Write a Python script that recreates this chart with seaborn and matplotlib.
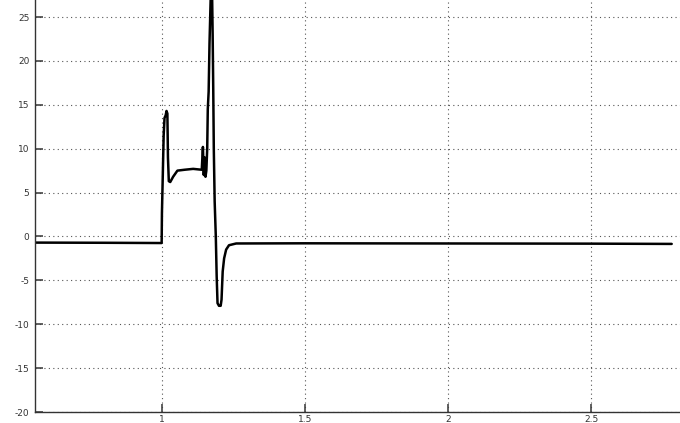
import matplotlib
matplotlib.use("Agg")
import matplotlib.pyplot as plt
import seaborn as sns
import pandas as pd

# Signal trace (time, amplitude)
time = [0.558, 0.800, 1.000, 1.001, 1.004, 1.007, 1.010, 1.014, 1.017, 1.020,
        1.022, 1.025, 1.030, 1.040, 1.055, 1.080, 1.110, 1.140, 1.144, 1.147,
        1.150, 1.153, 1.156, 1.159, 1.161, 1.164, 1.167, 1.171, 1.175, 1.178,
        1.180, 1.182, 1.185, 1.189, 1.192, 1.195, 1.200, 1.206, 1.209, 1.213,
        1.218, 1.225, 1.235, 1.260, 1.500, 2.000, 2.500, 2.780]
amplitude = [-0.70, -0.72, -0.75, 2.7, 7.0, 11.5, 13.5, 13.8, 14.3, 14.0,
             9.0, 6.3, 6.2, 6.8, 7.5, 7.6, 7.7, 7.6, 10.2, 7.0,
             9.0, 6.8, 7.5, 10.0, 14.5, 16.5, 22.0, 27.0, 30.0, 23.0,
             17.0, 10.0, 4.0, 0.0, -4.5, -7.6, -7.9, -7.9, -7.2, -4.0,
             -2.5, -1.5, -1.0, -0.80, -0.78, -0.80, -0.82, -0.85]

x_ticks = [1, 1.5, 2, 2.5]
x_tick_labels = ["1", "1.5", "2", "2.5"]
y_ticks = [-20, -15, -10, -5, 0, 5, 10, 15, 20, 25]
y_tick_labels = ["-20", "-15", "-10", "-5", "0", "5", "10", "15", "20", "25"]

df = pd.DataFrame({"t": time, "v": amplitude})

sns.set_style("white")
plt.rcParams["font.family"] = ["DejaVu Sans"]

fig = plt.figure(figsize=(6.8, 4.23), dpi=100)
ax = fig.add_axes([35 / 680, 11 / 423, 645 / 680, 412 / 423])

sns.lineplot(data=df, x="t", y="v", sort=False, estimator=None,
             color="black", linewidth=1.8, ax=ax)

ax.set_xlim(0.558, 2.809)
ax.set_ylim(-20, 26.94)
ax.set_xticks(x_ticks)
ax.set_xticklabels(x_tick_labels)
ax.set_yticks(y_ticks)
ax.set_yticklabels(y_tick_labels)
ax.set_xlabel("")
ax.set_ylabel("")

ax.grid(True, which="major", linestyle=(0, (1, 3)), color="#555555", linewidth=0.8)
ax.tick_params(direction="in", length=6, width=1.2, colors="#444444",
               labelsize=6.5, labelcolor="#333333",
               left=True, bottom=True, top=False, right=False)
ax.tick_params(axis="x", pad=2)
ax.tick_params(axis="y", pad=4)

for side in ("top", "right"):
    ax.spines[side].set_visible(False)
for side in ("left", "bottom"):
    ax.spines[side].set_color("#333333")
    ax.spines[side].set_linewidth(1.0)

fig.savefig("out.png", dpi=100)
